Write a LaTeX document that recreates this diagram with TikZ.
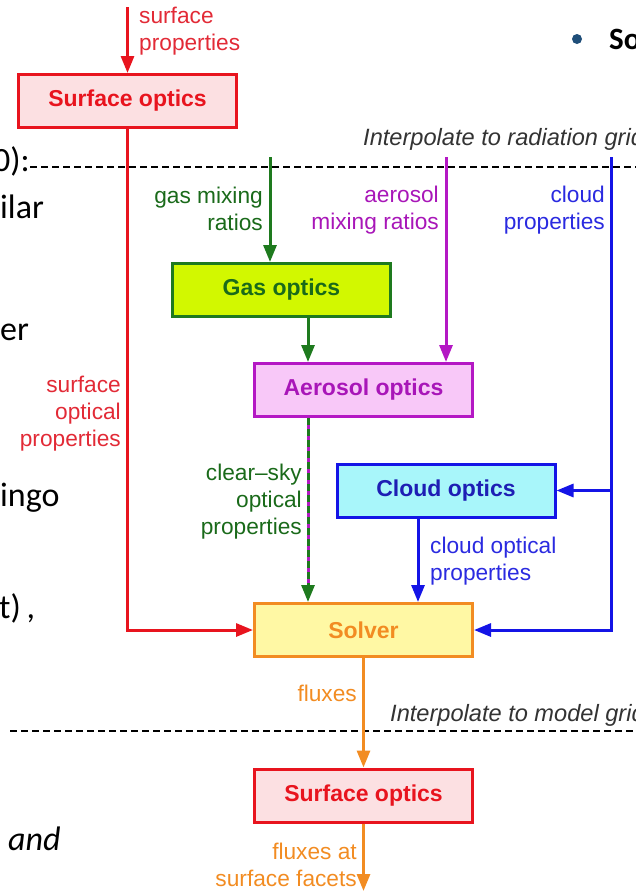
\documentclass[tikz,border=0pt]{standalone}
\usepackage{fontspec}
\setmainfont{Liberation Sans}
\newfontfamily\slidefont{Carlito}
\usetikzlibrary{arrows.meta}

\definecolor{sred}{HTML}{E8141E}
\definecolor{sredtxt}{HTML}{E22A36}
\definecolor{sredfill}{HTML}{FCE0E2}
\definecolor{ggreen}{HTML}{1E7A1E}
\definecolor{gtxt}{HTML}{1A6A1A}
\definecolor{gfill}{HTML}{D2F800}
\definecolor{amag}{HTML}{B418C4}
\definecolor{atxt}{HTML}{A816B8}
\definecolor{afill}{HTML}{F8C8F8}
\definecolor{cblue}{HTML}{1414E6}
\definecolor{ctxt}{HTML}{1E1EB4}
\definecolor{clbl}{HTML}{2A2AE0}
\definecolor{cfill}{HTML}{A8F6FA}
\definecolor{sorange}{HTML}{F28C22}
\definecolor{sfill}{HTML}{FFF8A4}
\definecolor{gridtxt}{HTML}{333333}
\definecolor{bulletblue}{HTML}{1F4E79}

\begin{document}
\begin{tikzpicture}[x=1pt, y=-1pt,
  box/.style={draw, line width=3pt, minimum width=218pt, minimum height=53pt,
    inner sep=0pt, font=\fontsize{23}{27}\selectfont\bfseries},
  lbl/.style={inner sep=0pt, font=\fontsize{22.7}{27}\selectfont},
  gridlbl/.style={inner sep=0pt, text=gridtxt, font=\fontsize{23.6}{27}\selectfont\itshape},
  slide/.style={inner sep=0pt, font=\slidefont\fontsize{34}{40}\selectfont},
  flow/.style={line width=3pt, -{Triangle[length=17pt,width=13pt]}},
  griddash/.style={line width=1.3pt, black, dash pattern=on 7pt off 4pt}]

\useasboundingbox (0,0) rectangle (635,892);

% slide text around the diagram
\node[slide, anchor=base east] (t1) at (30,171) {0):};
\node[slide, anchor=base west] (t2) at (0,218) {ilar};
\node[slide, anchor=base west] (t3) at (0,340) {er};
\node[slide, anchor=base west] (t4) at (0,506) {ingo};
\node[slide, anchor=base west] (t5) at (-1,618) {t)\,,};
\node[slide, anchor=base west, font=\slidefont\fontsize{34}{40}\selectfont\itshape] (t6) at (8,850) {and};
\node[circle, fill=bulletblue, inner sep=0pt, minimum size=10pt] (bul) at (577,39) {};
\node[inner sep=0pt, anchor=base west, font=\slidefont\fontsize{31}{36}\selectfont\bfseries] (t7) at (609,49) {So};

% grid boundaries
\coordinate (d1a) at (30,167);
\coordinate (d1b) at (640,167);
\coordinate (d2a) at (10,731);
\coordinate (d2b) at (640,731);
\draw[griddash] (d1a) -- (d1b);
\draw[griddash] (d2a) -- (d2b);
\node[gridlbl, anchor=base west] (g1) at (363,145) {Interpolate to radiation grid};
\node[gridlbl, anchor=base west] (g2) at (390,721) {Interpolate to model grid};

% boxes
\node[box, draw=sred, fill=sredfill, text=sred] (surf1) at (127.5,101) {Surface optics};
\node[box, draw=ggreen, fill=gfill, text=gtxt] (gas) at (281.5,290) {Gas optics};
\node[box, draw=amag, fill=afill, text=atxt] (aer) at (363.5,390) {Aerosol optics};
\node[box, draw=cblue, fill=cfill, text=ctxt] (cloud) at (446,490.5) {Cloud optics};
\node[box, draw=sorange, fill=sfill, text=sorange] (solver) at (363.5,630) {Solver};
\node[box, draw=sred, fill=sredfill, text=sred] (surf2) at (363.5,795.5) {Surface optics};

% free ends of the inputs and output
\coordinate (inSurf) at (127.5,7);
\coordinate (inGas) at (270,157);
\coordinate (inAer) at (446,157);
\coordinate (inCloud) at (611,157);
\coordinate (outFlux) at (363.5,891);
\coordinate (mid) at (308,0);
\coordinate (cl) at (418,0);

% connectors
\draw[flow, sred] (inSurf) -- (surf1.north);
\draw[flow, sred] (surf1.south) |- (solver.west);
\draw[flow, ggreen] (inGas) -- (inGas |- gas.north);
\draw[flow, amag] (inAer) -- (inAer |- aer.north);
\draw[flow, cblue] (inCloud) |- (solver.east);
\draw[flow, cblue] (inCloud |- cloud.east) -- (cloud.east);
\draw[flow, ggreen] (gas.south -| mid) -- (aer.north -| mid);
\draw[line width=3pt, amag, shorten >=15pt] (aer.south -| mid) -- (solver.north -| mid);
\draw[flow, ggreen, dash pattern=on 7pt off 4pt] (aer.south -| mid) -- (solver.north -| mid);
\draw[flow, cblue] (cloud.south -| cl) -- (solver.north -| cl);
\draw[flow, sorange] (solver.south) -- (surf2.north);
\draw[flow, sorange] (surf2.south) -- (outFlux);

% connector labels
\node[lbl, text=sredtxt, anchor=north west, align=left] (l1) at (139,6.5) {surface\\properties};
\node[lbl, text=gtxt, anchor=north east, align=right] (l2) at (263,186.5) {gas mixing\\ratios};
\node[lbl, text=atxt, anchor=north east, align=right] (l3) at (439,185.5) {aerosol\\mixing ratios};
\node[lbl, text=clbl, anchor=north east, align=right] (l4) at (605,185.5) {cloud\\properties};
\node[lbl, text=sredtxt, anchor=north east, align=right] (l5) at (121,375.5) {surface\\optical\\properties};
\node[lbl, text=gtxt, anchor=north east, align=right] (l6) at (302,463.5) {clear–sky\\optical\\properties};
\node[lbl, text=clbl, anchor=north west, align=left] (l7) at (430,536.5) {cloud optical\\properties};
\node[lbl, text=sorange, anchor=north east, align=right] (l8) at (357,684.5) {fluxes};
\node[lbl, text=sorange, anchor=north east, align=right] (l9) at (357,842.5) {fluxes at\\surface facets};
\end{tikzpicture}
\end{document}
